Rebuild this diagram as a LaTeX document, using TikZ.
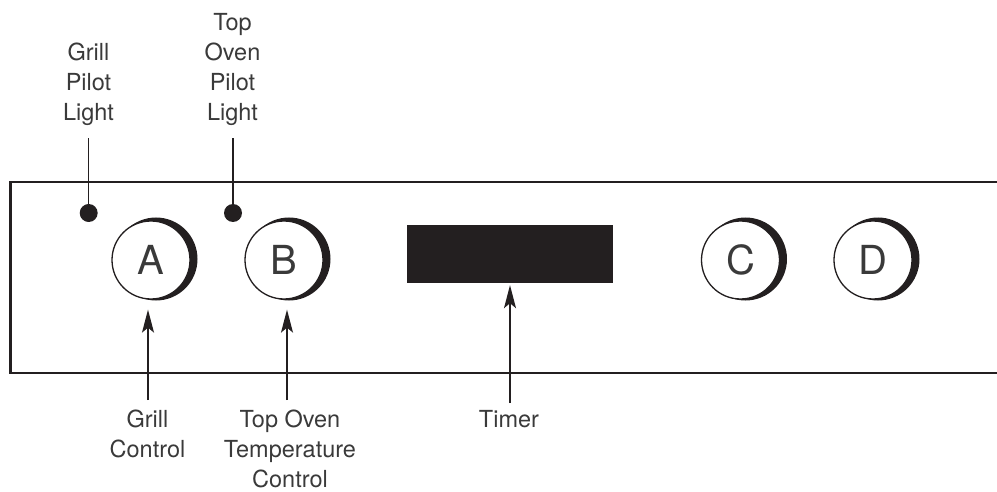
\documentclass[tikz,border=0pt]{standalone}
\usepackage{fontspec}
\setmainfont{TeX Gyre Heros}
\usetikzlibrary{arrows.meta}
\definecolor{ink}{HTML}{231F20}
\definecolor{txt}{HTML}{3A3A3A}
\begin{document}
\begin{tikzpicture}[x=1pt,y=-1pt,
  panel/.style={draw=ink,line width=2.6pt},
  leader/.style={draw=ink,line width=1.4pt},
  ptr/.style={leader,-{Stealth[length=23pt,width=12pt,inset=5pt]}},
  lbl/.style={font=\fontsize{23.5}{30}\selectfont,text=txt,align=center,inner sep=0pt},
  knob/.style={circle,draw=ink,line width=1.3pt,fill=white,minimum size=78pt,inner sep=0pt,
    font=\fontsize{40}{40}\selectfont,text=txt},
  crescent/.style={fill=ink},
  pilot/.style={circle,fill=ink,minimum size=18pt,inner sep=0pt},
  display/.style={rectangle,fill=ink,minimum width=206pt,minimum height=58pt,inner sep=0pt},
]
\useasboundingbox (0,0) rectangle (997,492);
% panel outline (open to the right)
\draw[panel] (997,182) -- (10.7,182) -- (10.7,373) -- (997,373);

% knob centres
\coordinate (cA) at (151,260);
\coordinate (cB) at (284,260);
\coordinate (cC) at (740.5,260);
\coordinate (cD) at (873,260);
% crescents
\foreach \c in {cA,cB,cC,cD}
  \fill[crescent] ([shift={(5,-1)}]\c) circle[radius=41.5];
% knobs
\node[knob] (kA) at (cA) {A};
\node[knob] (kB) at (cB) {B};
\node[knob] (kC) at (cC) {C};
\node[knob] (kD) at (cD) {D};

% timer display
\node[display] (tm) at (510,254) {};

% pilot lights
\node[pilot] (pA) at (88.7,213) {};
\node[pilot] (pB) at (233,213) {};

% labels
\node[lbl,anchor=north] (gpl) at (88.5,43) {Grill\\Pilot\\Light};
\node[lbl,anchor=north] (tpl) at (232.5,13) {Top\\Oven\\Pilot\\Light};
\node[lbl,anchor=north] (gcl) at (147.5,410) {Grill\\Control};
\node[lbl,anchor=north] (tol) at (290,410) {Top Oven\\Temperature\\Control};
\node[lbl,anchor=north] (tml) at (509,410) {Timer};

% leaders to pilot lights
\draw[leader,shorten >=12pt] (pA.center) -- (pA.center |- gpl.south);
\draw[leader,shorten >=12pt] (pB.center) -- (pB.center |- tpl.south);

% pointer arrows
\draw[ptr,shorten >=10pt] ([yshift=10pt,xshift=0.5pt]gcl.north) -- ([xshift=0.5pt]gcl.north |- kA.south);
\draw[ptr,shorten >=10pt] ([yshift=10pt,xshift=-3pt]tol.north) -- ([xshift=-3pt]tol.north |- kB.south);
\draw[ptr,shorten >=2pt] ([yshift=7pt,xshift=1pt]tml.north) -- ([xshift=1pt]tml.north |- tm.south);
\end{tikzpicture}
\end{document}
